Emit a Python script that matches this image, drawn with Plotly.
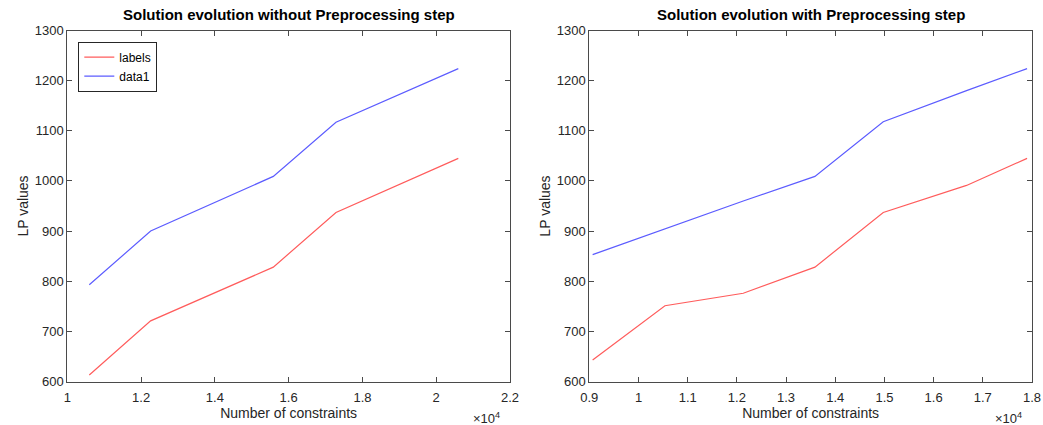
import plotly.graph_objects as go

# Left chart: without preprocessing
left_x = [10596, 12259, 15584, 17283, 20599]
left_labels = [613, 721, 828, 937, 1045]
left_data1 = [793, 900, 1009, 1117, 1224]

# Right chart: with preprocessing
right_x = [9068, 10538, 12130, 13587, 14976, 16669, 17900]
right_labels = [643, 751, 776, 828, 937, 991, 1045]
right_data1 = [853, 905, 960, 1009, 1118, 1180, 1224]

left_ticks = [10000, 12000, 14000, 16000, 18000, 20000, 22000]
left_ticktext = ["1", "1.2", "1.4", "1.6", "1.8", "2", "2.2"]
right_ticks = [9000, 10000, 11000, 12000, 13000, 14000, 15000, 16000, 17000, 18000]
right_ticktext = ["0.9", "1", "1.1", "1.2", "1.3", "1.4", "1.5", "1.6", "1.7", "1.8"]
y_ticks = [600, 700, 800, 900, 1000, 1100, 1200, 1300]

titles = ["Solution evolution without Preprocessing step",
          "Solution evolution with Preprocessing step"]

RED = "#ff5c5c"
BLUE = "#5c5cff"
AX = "#262626"
LINE = "#4a4a4a"
FONT = "Liberation Sans, Arial, sans-serif"

W, H = 1043, 425
fig = go.Figure()

fig.add_trace(go.Scatter(x=left_x, y=left_labels, mode="lines", name="labels",
                         line=dict(color=RED, width=1.2), xaxis="x", yaxis="y"))
fig.add_trace(go.Scatter(x=left_x, y=left_data1, mode="lines", name="data1",
                         line=dict(color=BLUE, width=1.2), xaxis="x", yaxis="y"))
fig.add_trace(go.Scatter(x=right_x, y=right_labels, mode="lines", name="labels",
                         showlegend=False, line=dict(color=RED, width=1.2), xaxis="x2", yaxis="y2"))
fig.add_trace(go.Scatter(x=right_x, y=right_data1, mode="lines", name="data1",
                         showlegend=False, line=dict(color=BLUE, width=1.2), xaxis="x2", yaxis="y2"))

y_dom = [1 - 381.5 / H, 1 - 30.5 / H]
lx = [67.3 / W, 510 / W]
rx = [589.3 / W, 1032 / W]

common_axis = dict(showline=True, linecolor=LINE, linewidth=1, mirror="allticks",
                   ticks="inside", ticklen=5, tickcolor=LINE, tickwidth=1,
                   showgrid=False, zeroline=False, automargin=False,
                   tickfont=dict(family=FONT, size=13, color=AX))

xt = dict(text="Number of constraints", standoff=0, font=dict(size=14, color=AX))
yt = dict(text="LP values", standoff=2, font=dict(size=14, color=AX))

fig.update_layout(
    width=W, height=H,
    margin=dict(l=0, r=0, t=0, b=0),
    paper_bgcolor="white", plot_bgcolor="white",
    font=dict(family=FONT, color=AX),
    xaxis=dict(domain=lx, range=[10000, 22000], tickvals=left_ticks, ticktext=left_ticktext,
               anchor="y", title=xt, ticklabelstandoff=4, **common_axis),
    yaxis=dict(domain=y_dom, range=[600, 1300], tickvals=y_ticks, anchor="x",
               title=yt, **common_axis),
    xaxis2=dict(domain=rx, range=[9000, 18000], tickvals=right_ticks, ticktext=right_ticktext,
                anchor="y2", title=xt, ticklabelstandoff=4, **common_axis),
    yaxis2=dict(domain=y_dom, range=[600, 1300], tickvals=y_ticks, anchor="x2",
                title=yt, **common_axis),
    legend=dict(x=78.3 / W, y=1 - 41.7 / H, xanchor="left", yanchor="top",
                bordercolor=AX, borderwidth=1, bgcolor="white",
                font=dict(family=FONT, size=12, color="black"),
                tracegroupgap=0, itemwidth=30),
    showlegend=True,
)

annotations = []
for i, t in enumerate(titles):
    dom = lx if i == 0 else rx
    annotations.append(dict(text="<b>" + t + "</b>", x=(dom[0] + dom[1]) / 2, y=1 - 14 / H,
                            xref="paper", yref="paper", xanchor="center", yanchor="middle",
                            showarrow=False, font=dict(family=FONT, size=15, color="black")))
    annotations.append(dict(text="×10<sup>4</sup>", x=dom[1] - 8 / W, y=1 - 418 / H,
                            xref="paper", yref="paper", xanchor="right", yanchor="middle",
                            showarrow=False, font=dict(family=FONT, size=13, color=AX)))
fig.update_layout(annotations=annotations)

fig.write_html("out.html", config={"displayModeBar": False},
               post_script="document.body.style.margin='0';document.body.style.overflow='hidden';")
